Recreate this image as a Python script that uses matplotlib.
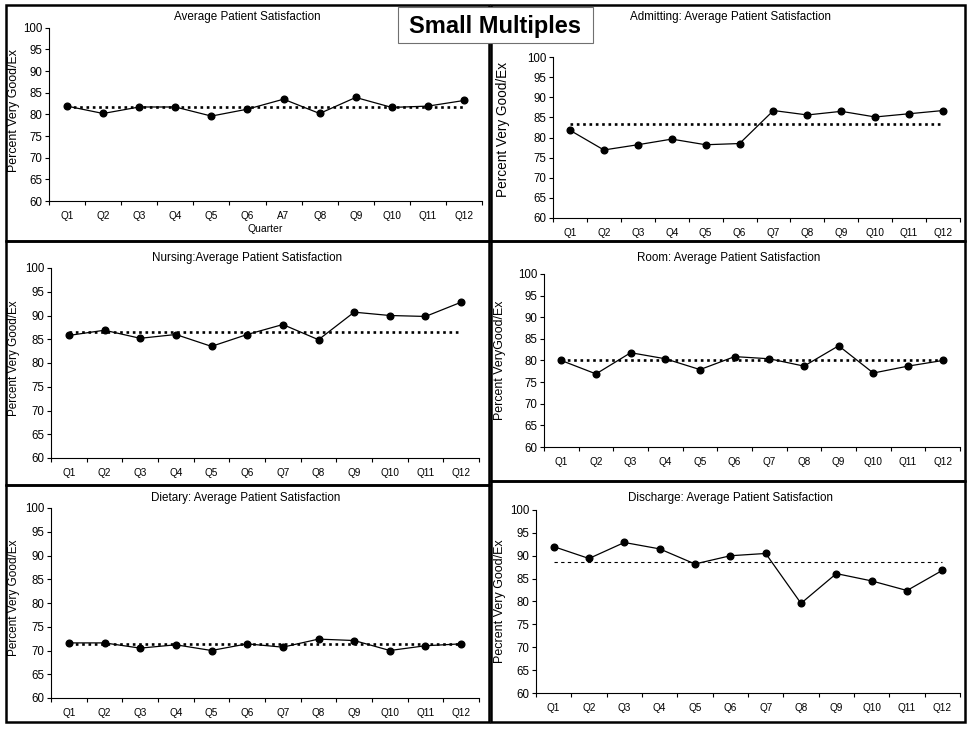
import matplotlib
matplotlib.use("Agg")
import matplotlib.pyplot as plt
from matplotlib.patches import Rectangle
from matplotlib.ticker import MultipleLocator, FixedLocator

plt.rcParams["font.family"] = ["Liberation Sans", "DejaVu Sans"]

quarters = ["Q1", "Q2", "Q3", "Q4", "Q5", "Q6", "Q7", "Q8", "Q9", "Q10", "Q11", "Q12"]
quarters_overall = ["Q1", "Q2", "Q3", "Q4", "Q5", "Q6", "A7", "Q8", "Q9", "Q10", "Q11", "Q12"]

overall = [81.9, 80.2, 81.7, 81.7, 79.6, 81.2, 83.5, 80.2, 83.9, 81.6, 81.9, 83.2]
admitting = [81.8, 76.9, 78.2, 79.6, 78.2, 78.5, 86.7, 85.6, 86.5, 85.1, 85.9, 86.7]
nursing = [85.8, 86.9, 85.2, 86.0, 83.5, 86.0, 88.1, 84.9, 90.7, 90.0, 89.8, 92.8]
room = [80.0, 76.9, 81.8, 80.4, 77.9, 80.9, 80.4, 78.7, 83.4, 77.1, 78.7, 80.0]
dietary = [71.6, 71.6, 70.5, 71.2, 70.0, 71.4, 70.7, 72.4, 72.1, 70.0, 71.0, 71.4]
discharge = [92.0, 89.4, 92.9, 91.5, 88.2, 90.0, 90.5, 79.6, 86.1, 84.5, 82.4, 86.8]

# reference (average) levels drawn as dotted lines
overall_ref = 81.7
admitting_ref = 83.4
nursing_ref = 86.5
room_ref = 80.0
dietary_ref = 71.3
discharge_ref = 88.7

W, H = 969, 729
fig = plt.figure(figsize=(W / 100, H / 100), dpi=100)
fig.patch.set_facecolor("white")


def fx(x):
    return x / W


def fy(y):
    return 1 - y / H


# panel frames (pixel boxes: x0, x1, y0, y1)
frames = [
    (6, 489, 5, 241), (491, 965, 5, 241),
    (6, 489, 241, 485), (491, 965, 241, 481),
    (6, 489, 485, 722), (491, 965, 481, 722),
]
for x0, x1, y0, y1 in frames:
    fig.add_artist(Rectangle((fx(x0), fy(y1)), fx(x1 - x0), (y1 - y0) / H,
                             transform=fig.transFigure, fill=False,
                             edgecolor="black", linewidth=1.8, zorder=0))

panels = [
    dict(box=(49, 482, 27.7, 201), data=overall, ref=overall_ref,
         labels=quarters_overall, title="Average Patient Satisfaction",
         tpos=(247, 17), ylabel="Percent Very Good/Ex", ylpos=(14, 110), ylfs=8.9,
         xlabel="Quarter", refstyle="dot"),
    dict(box=(553, 960, 57, 218), data=admitting, ref=admitting_ref,
         labels=quarters, title="Admitting: Average Patient Satisfaction",
         tpos=(731, 17), ylabel="Percent Very Good/Ex", ylpos=(503, 129), ylfs=9.8,
         xlabel=None, refstyle="dot"),
    dict(box=(51, 479, 268, 458), data=nursing, ref=nursing_ref,
         labels=quarters, title="Nursing:Average Patient Satisfaction",
         tpos=(247, 258), ylabel="Percent Very Good/Ex", ylpos=(14, 358), ylfs=8.4,
         xlabel=None, refstyle="dot"),
    dict(box=(544, 960, 274, 447), data=room, ref=room_ref,
         labels=quarters, title="Room: Average Patient Satisfaction",
         tpos=(729, 258), ylabel="Percent VeryGood/Ex", ylpos=(500, 360), ylfs=8.9,
         xlabel=None, refstyle="dot"),
    dict(box=(51, 479, 508, 698), data=dietary, ref=dietary_ref,
         labels=quarters, title="Dietary: Average Patient Satisfaction",
         tpos=(246, 498), ylabel="Percent Very Good/Ex", ylpos=(14, 598), ylfs=8.5,
         xlabel=None, refstyle="dot"),
    dict(box=(536, 960, 510, 693), data=discharge, ref=discharge_ref,
         labels=quarters, title="Discharge: Average Patient Satisfaction",
         tpos=(730, 498), ylabel="Pecrent Very Good/Ex", ylpos=(500, 601), ylfs=9.0,
         xlabel=None, refstyle="dash"),
]

for p in panels:
    x0, x1, y0, y1 = p["box"]
    ax = fig.add_axes([fx(x0), fy(y1), fx(x1 - x0), (y1 - y0) / H])
    xs = list(range(len(p["data"])))
    if p["refstyle"] == "dot":
        ax.plot([xs[0], xs[-1]], [p["ref"]] * 2, color="black",
                linewidth=1.9, linestyle=(0, (1, 1.4)), zorder=2)
    else:
        ax.plot([xs[0], xs[-1]], [p["ref"]] * 2, color="black",
                linewidth=0.8, linestyle=(0, (3, 3)), zorder=2)
    ax.plot(xs, p["data"], color="black", linewidth=0.9, marker="o",
            markersize=4.8, zorder=3)
    ax.set_xlim(-0.5, len(xs) - 0.5)
    ax.set_ylim(60, 100)
    ax.yaxis.set_major_locator(MultipleLocator(5))
    ax.set_xticks(xs)
    ax.set_xticklabels(p["labels"])
    ax.xaxis.set_minor_locator(FixedLocator([i - 0.5 for i in range(len(xs) + 1)]))
    ax.tick_params(axis="x", which="major", length=0, pad=7, labelsize=7.2)
    ax.tick_params(axis="x", which="minor", length=3, width=0.8, direction="out")
    ax.tick_params(axis="y", which="major", length=3, width=0.8, direction="out",
                   labelsize=8.3, pad=2)
    for s in ("top", "right"):
        ax.spines[s].set_visible(False)
    for s in ("left", "bottom"):
        ax.spines[s].set_linewidth(0.8)
    ax.patch.set_alpha(0)
    fig.text(fx(p["tpos"][0]), fy(p["tpos"][1]), p["title"], ha="center",
             va="center", fontsize=8.4)
    fig.text(fx(p["ylpos"][0]), fy(p["ylpos"][1]), p["ylabel"], rotation=90,
             ha="center", va="center", fontsize=p["ylfs"])
    if p["xlabel"]:
        fig.text(fx((x0 + x1) / 2), fy(229), p["xlabel"], ha="center",
                 va="center", fontsize=7.5)

# headline box
fig.add_artist(Rectangle((fx(398), fy(43)), fx(593 - 398), (43 - 7) / H,
                         transform=fig.transFigure, facecolor="white",
                         edgecolor="#707070", linewidth=0.8, zorder=5))
fig.text(fx(495), fy(26), "Small Multiples", ha="center", va="center",
         fontsize=17, fontweight="bold", zorder=6)

fig.savefig("out.png", dpi=100, facecolor="white")
